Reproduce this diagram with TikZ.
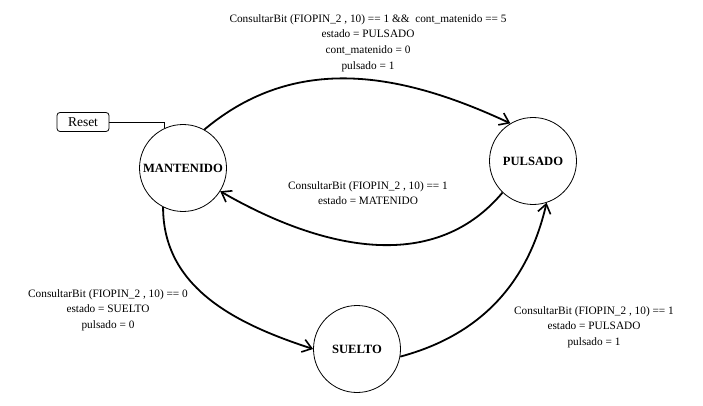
\documentclass[tikz,border=0pt]{standalone}
\usepackage{fontspec}
\setmainfont{Liberation Serif}
\usetikzlibrary{arrows.meta}
\begin{document}
\begin{tikzpicture}[x=1pt,y=-1pt,
  state/.style={draw,circle,minimum size=87pt,inner sep=0pt,line width=0.8pt,font=\fontsize{12.6}{14}\selectfont\bfseries},
  trans/.style={line width=1.8pt,-{Straight Barb[length=9pt,width=13pt,line width=1.6pt]}},
  lbl/.style={align=center,font=\fontsize{11.3}{15.6}\selectfont,inner sep=0pt},
  resetbox/.style={draw,rounded corners=3pt,minimum width=52pt,minimum height=19pt,inner sep=0pt,font=\fontsize{13.5}{15}\selectfont,line width=0.8pt}]
\useasboundingbox (0,0) rectangle (703,406);
\node[state] (m) at (183,168) {MANTENIDO};
\node[state] (p) at (533,161) {PULSADO};
\node[state] (s) at (357,349) {SUELTO};
\node[resetbox] (r) at (83,122) {Reset};
\draw[line width=0.8pt] (r.east) -| (m.115);
\draw[trans] (m.61) to[out=40,in=155] (p.121);
\draw[trans] (p.226) to[out=-130,in=-30] (m.-32);
\draw[trans] (m.243) to[out=-90,in=162] (s.180);
\draw[trans] (s.-10) to[out=15,in=-103] (p.-72);
\node[lbl] (l1) at (368,43) {ConsultarBit (FIOPIN\_2 , 10) == 1 \&\&\ \ cont\_matenido == 5\\estado = PULSADO\\cont\_matenido = 0\\pulsado = 1};
\node[lbl] (l2) at (368,193) {ConsultarBit (FIOPIN\_2 , 10) == 1\\estado = MATENIDO};
\node[lbl] (l3) at (108,310) {ConsultarBit (FIOPIN\_2 , 10) == 0\\estado = SUELTO\\pulsado = 0};
\node[lbl] (l4) at (594,327) {ConsultarBit (FIOPIN\_2 , 10) == 1\\estado = PULSADO\\pulsado = 1};
\end{tikzpicture}
\end{document}
